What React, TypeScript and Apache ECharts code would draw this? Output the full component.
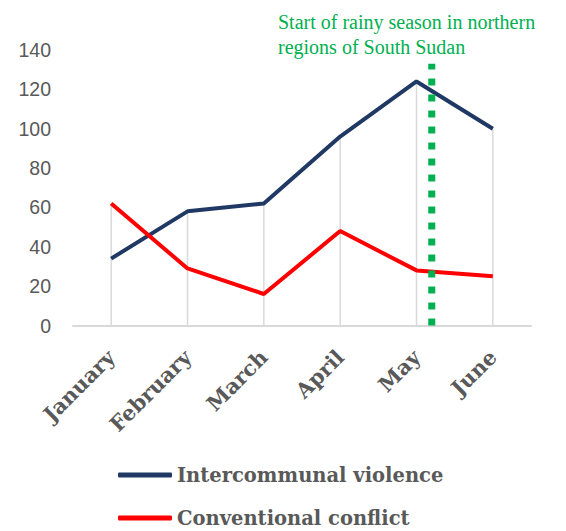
import React, { useEffect, useRef } from "react";
import * as echarts from "echarts";

const months = ["January", "February", "March", "April", "May", "June"];
const intercommunal = [34, 58, 62, 96, 124, 100];
const conventional = [62, 29, 16, 48, 28, 25];
const yTicks = [0, 20, 40, 60, 80, 100, 120, 140];
const rainyMarker = { month: "May", offset: 0.2, top: 133 };
const annotation = ["Start of rainy season in northern", "regions of South Sudan"];
const seriesNames = ["Intercommunal violence", "Conventional conflict"];
const seriesColors = ["#203864", "#ff0000"];

const dropValues = months.map((_, i) => Math.max(intercommunal[i], conventional[i]));

export default function App() {
  const ref = useRef<HTMLDivElement>(null);
  useEffect(() => {
    document.body.style.margin = "0";
    if (!ref.current) return;
    const chart = echarts.init(ref.current, null, { renderer: "svg" });
    const markerIndex = months.indexOf(rainyMarker.month);
    const legendText = {
      color: "#595959",
      fontFamily: "DejaVu Serif",
      fontWeight: "bold",
      fontSize: 19.5,
      lineHeight: 22,
    };
    chart.setOption({
      animation: false,
      backgroundColor: "#ffffff",
      grid: { left: 73, right: 35, top: 50, bottom: 205.5, containLabel: false },
      xAxis: {
        type: "category",
        data: months,
        boundaryGap: true,
        axisLine: { lineStyle: { color: "#d9d9d9", width: 2 } },
        axisTick: { show: false },
        axisLabel: {
          rotate: 45,
          interval: 0,
          margin: 28,
          color: "#595959",
          fontFamily: "DejaVu Serif",
          fontWeight: "bold",
          fontSize: 21,
        },
        splitLine: { show: false },
      },
      yAxis: {
        type: "value",
        min: yTicks[0],
        max: yTicks[yTicks.length - 1],
        interval: yTicks[1] - yTicks[0],
        axisLine: { show: false },
        axisTick: { show: false },
        splitLine: { show: false },
        axisLabel: {
          margin: 22,
          color: "#595959",
          fontFamily: "Liberation Sans",
          fontSize: 19.5,
        },
      },
      legend: seriesNames.map((name, i) => ({
        data: [name],
        orient: "vertical",
        left: 118,
        top: 464 + i * 43,
        padding: 0,
        itemWidth: 54,
        itemHeight: 5,
        itemGap: 0,
        icon: "roundRect",
        textStyle: legendText,
      })),
      graphic: [
        {
          type: "text",
          left: 278,
          top: 9,
          style: {
            text: annotation.join("\n"),
            fill: "#00B050",
            font: '20px "Liberation Serif"',
            lineHeight: 25,
          },
        },
      ],
      series: [
        {
          type: "custom",
          silent: true,
          z: 1,
          data: dropValues.map((v, i) => [i, v]),
          renderItem: (params: any, api: any) => {
            const top = api.coord([api.value(0), api.value(1)]);
            const bottom = api.coord([api.value(0), 0]);
            return {
              type: "line",
              shape: { x1: top[0], y1: top[1], x2: bottom[0], y2: bottom[1] },
              style: { stroke: "#d9d9d9", lineWidth: 1.5 },
            };
          },
        },
        ...seriesNames.map((name, i) => ({
          name,
          type: "line",
          data: i === 0 ? intercommunal : conventional,
          showSymbol: false,
          symbol: "none",
          z: 3,
          lineStyle: { color: seriesColors[i], width: 4 },
          itemStyle: { color: seriesColors[i] },
        })),
        {
          type: "custom",
          silent: true,
          z: 4,
          data: [[markerIndex, rainyMarker.top]],
          renderItem: (params: any, api: any) => {
            const top = api.coord([api.value(0), api.value(1)]);
            const bottom = api.coord([api.value(0), 0]);
            const w = api.size([1, 0])[0];
            const x = top[0] + rainyMarker.offset * w;
            return {
              type: "line",
              shape: { x1: x, y1: bottom[1], x2: x, y2: top[1] },
              style: { stroke: "#00B050", lineWidth: 7, lineDash: [7, 9], lineCap: "butt" },
            };
          },
        },
      ],
    });
    return () => chart.dispose();
  }, []);
  return <div ref={ref} style={{ width: 566, height: 531 }} />;
}
